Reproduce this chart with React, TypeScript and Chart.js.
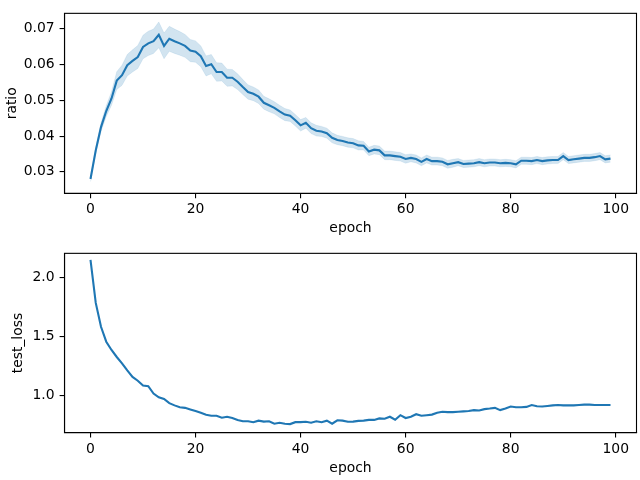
import React, { useEffect, useRef } from "react";
import { Chart, registerables } from "chart.js";

Chart.register(...registerables);

const epochs: number[] = Array.from({ length: 100 }, (_, i) => i);

const ratio: number[] = [
  0.028, 0.036, 0.0425, 0.047, 0.0505, 0.0555, 0.057, 0.0598, 0.061, 0.0621,
  0.0649, 0.0659, 0.0665, 0.0683, 0.0652, 0.0672, 0.0665, 0.0659, 0.0652, 0.0639,
  0.0636, 0.0623, 0.0596, 0.0601, 0.0579, 0.0579, 0.0563, 0.0563, 0.0552, 0.0537,
  0.0523, 0.0518, 0.051, 0.0493, 0.0486, 0.0479, 0.0469, 0.046, 0.0457, 0.0444,
  0.043, 0.0437, 0.0422, 0.0415, 0.0413, 0.0408, 0.0395, 0.0389, 0.0386, 0.0382,
  0.038, 0.0374, 0.0373, 0.0357, 0.0362, 0.036, 0.0346, 0.0346, 0.0344, 0.0342,
  0.0336, 0.0339, 0.0336, 0.0328, 0.0336, 0.033, 0.033, 0.0328, 0.0321, 0.0324,
  0.0327, 0.0322, 0.0323, 0.0324, 0.0327, 0.0324, 0.0326, 0.0326, 0.0324, 0.0325,
  0.0324, 0.0321, 0.0331, 0.0331, 0.033, 0.0333, 0.033, 0.0332, 0.0333, 0.0333,
  0.0344, 0.0333, 0.0335, 0.0337, 0.0339, 0.0339, 0.0341, 0.0344, 0.0335, 0.0337,
];

const ratioCi: number[] = [
  0.0007, 0.001, 0.0012, 0.0015, 0.0019, 0.0025, 0.0028, 0.003, 0.0031, 0.0032,
  0.0033, 0.0034, 0.0034, 0.0036, 0.0036, 0.0035, 0.0034, 0.0033, 0.0032, 0.0031,
  0.003, 0.0029, 0.0028, 0.0027, 0.0026, 0.0025, 0.0024, 0.0023, 0.0022, 0.0021,
  0.002, 0.0019, 0.0019, 0.0018, 0.0018, 0.0017, 0.0017, 0.0017, 0.0016, 0.0016,
  0.0016, 0.0015, 0.0015, 0.0015, 0.0014, 0.0014, 0.0014, 0.0013, 0.0013, 0.0013,
  0.0013, 0.0013, 0.0012, 0.0012, 0.0012, 0.0012, 0.0012, 0.0012, 0.0012, 0.0012,
  0.0012, 0.0011, 0.0011, 0.0011, 0.0011, 0.0011, 0.0011, 0.0011, 0.0011, 0.0011,
  0.001, 0.001, 0.001, 0.001, 0.001, 0.001, 0.001, 0.001, 0.001, 0.001,
  0.001, 0.001, 0.001, 0.001, 0.001, 0.001, 0.001, 0.001, 0.001, 0.001,
  0.001, 0.001, 0.001, 0.001, 0.001, 0.001, 0.001, 0.001, 0.001, 0.001,
];

const testLoss: number[] = [
  2.148, 1.785, 1.583, 1.457, 1.387, 1.328, 1.274, 1.215, 1.159, 1.127,
  1.086, 1.081, 1.019, 0.987, 0.973, 0.938, 0.919, 0.903, 0.898, 0.884,
  0.871, 0.857, 0.839, 0.831, 0.831, 0.815, 0.823, 0.812, 0.796, 0.785,
  0.785, 0.777, 0.79, 0.782, 0.785, 0.764, 0.772, 0.764, 0.761, 0.777,
  0.777, 0.78, 0.772, 0.785, 0.777, 0.79, 0.764, 0.793, 0.79, 0.78,
  0.782, 0.788, 0.79, 0.796, 0.796, 0.809, 0.806, 0.823, 0.798, 0.836,
  0.812, 0.823, 0.844, 0.831, 0.836, 0.841, 0.857, 0.865, 0.862, 0.862,
  0.865, 0.868, 0.871, 0.879, 0.876, 0.887, 0.892, 0.898, 0.879, 0.892,
  0.909, 0.903, 0.903, 0.906, 0.922, 0.911, 0.909, 0.914, 0.919, 0.922,
  0.919, 0.919, 0.919, 0.922, 0.925, 0.925, 0.922, 0.922, 0.922, 0.922,
];

const xTicks: number[] = [0, 20, 40, 60, 80, 100];
const ratioTicks: number[] = [0.03, 0.04, 0.05, 0.06, 0.07];
const lossTicks: number[] = [1.0, 1.5, 2.0];

const BLUE = "#1f77b4";
const FONT = { family: "'DejaVu Sans', sans-serif", size: 13.9 };

const framePlugin = {
  id: "frame",
  afterDraw(chart: any) {
    const { ctx, chartArea } = chart;
    const { left, top, right, bottom } = chartArea;
    ctx.save();
    ctx.strokeStyle = "#000";
    ctx.lineWidth = 1.1;
    ctx.strokeRect(left, top, right - left, bottom - top);
    ctx.restore();
  },
};

function makeOptions(p: {
  yTitle: string;
  yMin: number;
  yMax: number;
  yTicks: number[];
  decimals: number;
  topPad: number;
  xAxisH: number;
  yTitlePad: number;
}) {
  return {
    responsive: false,
    animation: false as const,
    layout: { padding: { left: 0, right: 3.5, top: p.topPad, bottom: 0 } },
    plugins: { legend: { display: false }, tooltip: { enabled: false } },
    scales: {
      x: {
        type: "linear" as const,
        min: -4.95,
        max: 103.95,
        afterBuildTicks: (s: any) => {
          s.ticks = xTicks.map((v) => ({ value: v }));
        },
        afterFit: (s: any) => {
          s.height = p.xAxisH;
        },
        grid: {
          drawOnChartArea: false,
          drawTicks: true,
          tickLength: 4.9,
          color: "#000",
          lineWidth: 1.1,
        },
        border: { display: true, color: "#000", width: 1.1 },
        ticks: {
          color: "#000",
          font: FONT,
          padding: 3,
          maxRotation: 0,
          autoSkip: false,
          callback: (v: any) => String(v),
        },
        title: {
          display: true,
          text: "epoch",
          color: "#000",
          font: FONT,
          padding: { top: 0, bottom: 3.2 },
        },
      },
      y: {
        type: "linear" as const,
        min: p.yMin,
        max: p.yMax,
        afterBuildTicks: (s: any) => {
          s.ticks = p.yTicks.map((v) => ({ value: v }));
        },
        afterFit: (s: any) => {
          s.width = 64.5;
        },
        grid: {
          drawOnChartArea: false,
          drawTicks: true,
          tickLength: 4.9,
          color: "#000",
          lineWidth: 1.1,
        },
        border: { display: true, color: "#000", width: 1.1 },
        ticks: {
          color: "#000",
          font: FONT,
          padding: 5,
          autoSkip: false,
          callback: (v: any) => Number(v).toFixed(p.decimals),
        },
        title: {
          display: true,
          text: p.yTitle,
          color: "#000",
          font: FONT,
          padding: { top: p.yTitlePad, bottom: 0 },
        },
      },
    },
  };
}

export default function App() {
  const topRef = useRef<HTMLCanvasElement>(null);
  const botRef = useRef<HTMLCanvasElement>(null);

  useEffect(() => {
    const mainLine = epochs.map((e, i) => ({ x: e, y: ratio[i] }));
    const upper = epochs.map((e, i) => ({ x: e, y: ratio[i] + ratioCi[i] }));
    const lower = epochs.map((e, i) => ({ x: e, y: ratio[i] - ratioCi[i] }));

    const top = new Chart(topRef.current as HTMLCanvasElement, {
      type: "line",
      data: {
        datasets: [
          {
            data: mainLine,
            borderColor: BLUE,
            borderWidth: 2.1,
            pointRadius: 0,
            fill: false,
            tension: 0,
          },
          {
            data: upper,
            borderColor: "rgba(31,119,180,0.2)",
            borderWidth: 0.5,
            pointRadius: 0,
            fill: false,
          },
          {
            data: lower,
            borderColor: "rgba(31,119,180,0.2)",
            borderWidth: 0.5,
            backgroundColor: "rgba(31,119,180,0.2)",
            pointRadius: 0,
            fill: "-1",
          },
        ],
      },
      options: makeOptions({
        yTitle: "ratio",
        yMin: 0.024,
        yMax: 0.0743,
        yTicks: ratioTicks,
        decimals: 2,
        topPad: 4.3,
        xAxisH: 46.7,
        yTitlePad: 4,
      }) as any,
      plugins: [framePlugin],
    });

    const bot = new Chart(botRef.current as HTMLCanvasElement, {
      type: "line",
      data: {
        datasets: [
          {
            data: epochs.map((e, i) => ({ x: e, y: testLoss[i] })),
            borderColor: BLUE,
            borderWidth: 2.1,
            pointRadius: 0,
            fill: false,
            tension: 0,
          },
        ],
      },
      options: makeOptions({
        yTitle: "test_loss",
        yMin: 0.688,
        yMax: 2.204,
        yTicks: lossTicks,
        decimals: 1,
        topPad: 4.7,
        xAxisH: 47.3,
        yTitlePad: 10,
      }) as any,
      plugins: [framePlugin],
    });

    return () => {
      top.destroy();
      bot.destroy();
    };
  }, []);

  return (
    <div
      style={{
        position: "absolute",
        left: 0,
        top: 0,
        width: 640,
        height: 480,
        background: "#fff",
      }}
    >
      <canvas ref={topRef} width={640} height={240} style={{ display: "block" }} />
      <canvas ref={botRef} width={640} height={240} style={{ display: "block" }} />
    </div>
  );
}
